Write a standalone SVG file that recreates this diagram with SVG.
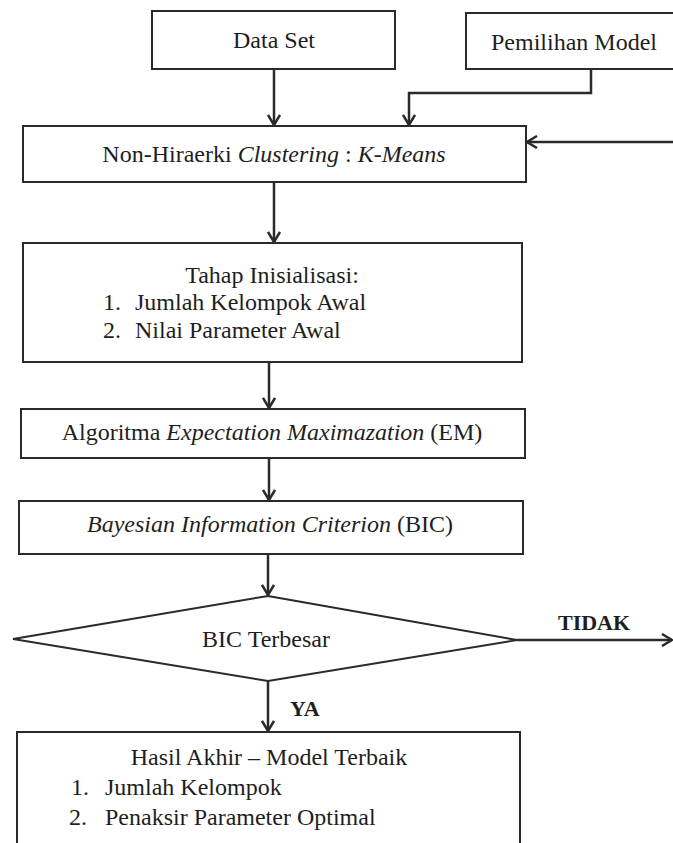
<svg xmlns="http://www.w3.org/2000/svg" width="673" height="843" viewBox="0 0 673 843">
<style>
.box{fill:#fff;stroke:#2a2a2a;stroke-width:2}
.t{font-family:"Liberation Serif","Times New Roman",serif;font-size:24px;fill:#1e1e1e}
.c{text-anchor:middle}
.i{font-style:italic}
.b{font-weight:bold;font-size:22px}
.ln{fill:none;stroke:#2a2a2a;stroke-width:2.5}
</style>
<defs>
<marker id="ah" markerUnits="userSpaceOnUse" viewBox="-12 -7 14 14" refX="0" refY="0" markerWidth="14" markerHeight="14" orient="auto">
<path d="M-10,-6 L0,0 L-10,6" fill="none" stroke="#2a2a2a" stroke-width="2.5"/>
</marker>
</defs>
<rect width="673" height="843" fill="#fff"/>

<g id="connectors">
<path class="ln" d="M274,69 V125" marker-end="url(#ah)"/>
<path class="ln" d="M591,69 V93 H409 V125" marker-end="url(#ah)"/>
<path class="ln" d="M673,142 H527" marker-end="url(#ah)"/>
<path class="ln" d="M274,182 V242" marker-end="url(#ah)"/>
<path class="ln" d="M269,362 V408" marker-end="url(#ah)"/>
<path class="ln" d="M269,458 V500" marker-end="url(#ah)"/>
<path class="ln" d="M268,554 V595" marker-end="url(#ah)"/>
<path class="ln" d="M268,681 V731" marker-end="url(#ah)"/>
<path class="ln" d="M517,640 H672" marker-end="url(#ah)"/>
<text class="t b" x="558" y="630">TIDAK</text>
<text class="t b" x="290" y="716">YA</text>
</g>

<g id="data-set">
<rect class="box" x="152" y="11" width="243" height="58"/>
<text class="t c" x="274" y="48">Data Set</text>
</g>

<g id="pemilihan-model">
<rect class="box" x="466" y="13" width="220" height="56"/>
<text class="t c" x="574" y="50">Pemilihan Model</text>
</g>

<g id="kmeans">
<rect class="box" x="23" y="126" width="503" height="56"/>
<text class="t c" x="274" y="162">Non-Hiraerki <tspan class="i">Clustering</tspan> : <tspan class="i">K-Means</tspan></text>
</g>

<g id="inisialisasi">
<rect class="box" x="23" y="243" width="499" height="119"/>
<text class="t c" x="272" y="283">Tahap Inisialisasi:</text>
<text class="t" x="103" y="310">1.</text>
<text class="t" x="135" y="310">Jumlah Kelompok Awal</text>
<text class="t" x="103" y="338">2.</text>
<text class="t" x="135" y="338">Nilai Parameter Awal</text>
</g>

<g id="em">
<rect class="box" x="21" y="409" width="504" height="49"/>
<text class="t c" x="272" y="440">Algoritma <tspan class="i">Expectation Maximazation</tspan> (EM)</text>
</g>

<g id="bic">
<rect class="box" x="19" y="501" width="504" height="53"/>
<text class="t c" x="270" y="532"><tspan class="i">Bayesian Information Criterion</tspan> (BIC)</text>
</g>

<g id="decision">
<polygon class="box" points="268,596 517,640 268,681 13,639"/>
<text class="t c" x="266" y="647">BIC Terbesar</text>
</g>

<g id="hasil">
<rect class="box" x="17" y="732" width="503" height="130"/>
<text class="t c" x="269" y="765">Hasil Akhir – Model Terbaik</text>
<text class="t" x="71" y="795">1.</text>
<text class="t" x="105" y="795">Jumlah Kelompok</text>
<text class="t" x="69" y="825">2.</text>
<text class="t" x="105" y="825">Penaksir Parameter Optimal</text>
</g>
</svg>
